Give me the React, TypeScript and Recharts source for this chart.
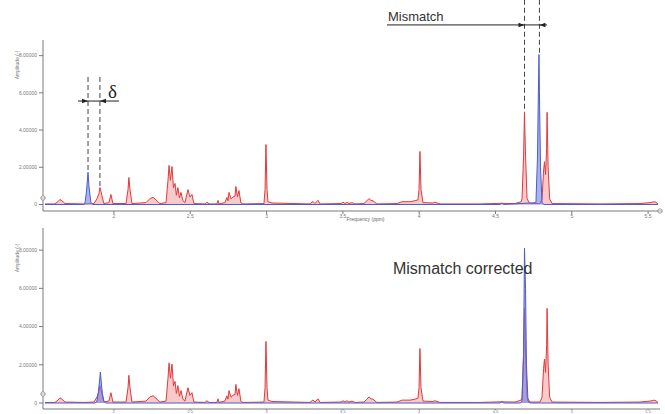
import React from "react";
import { ComposedChart, Area, XAxis, YAxis, ReferenceLine, ReferenceDot, Label } from "recharts";

// mixture spectrum (red): ppm / amplitude
const redPpm = [
  1.548, 1.613, 1.633, 1.646, 1.659, 1.679, 1.803, 1.869, 1.889, 1.902, 1.908, 1.915, 1.921, 1.934,
  1.967, 1.98, 1.993, 2.079, 2.092, 2.098, 2.105, 2.118, 2.21, 2.236, 2.256, 2.275, 2.301, 2.341,
  2.354, 2.361, 2.37, 2.38, 2.39, 2.4, 2.409, 2.419, 2.429, 2.439, 2.452, 2.465, 2.485, 2.498, 2.511,
  2.524, 2.596, 2.609, 2.623, 2.675, 2.682, 2.688, 2.727, 2.74, 2.747, 2.754, 2.767, 2.78, 2.793,
  2.799, 2.809, 2.819, 2.832, 2.845, 2.983, 2.99, 2.996, 3.003, 3.009, 3.035, 3.284, 3.304, 3.317,
  3.337, 3.35, 3.488, 3.501, 3.514, 3.527, 3.54, 3.56, 3.579, 3.638, 3.658, 3.671, 3.684, 3.697,
  3.723, 3.855, 3.887, 3.94, 3.972, 3.992, 3.999, 4.005, 4.012, 4.025, 4.09, 4.103, 4.136, 4.398,
  4.529, 4.628, 4.668, 4.674, 4.684, 4.69, 4.697, 4.707, 4.726, 4.792, 4.805, 4.815, 4.821, 4.828,
  4.835, 4.838, 4.845, 4.855, 4.871, 5.185, 5.447, 5.512, 5.545, 5.565,
];
const redAmp = [
  0.03, 0.03, 0.15, 0.27, 0.2, 0.05, 0.03, 0.05, 0.32, 0.6, 0.91, 0.7, 0.48, 0.05,
  0.1, 0.54, 0.05, 0.05, 0.8, 1.45, 0.8, 0.05, 0.1, 0.32, 0.38, 0.25, 0.05, 0.1,
  1.3, 2.1, 1.3, 2.04, 0.9, 1.13, 0.5, 0.91, 0.35, 0.65, 0.2, 0.1, 0.8, 0.4, 0.54,
  0.05, 0.03, 0.12, 0.03, 0.03, 0.22, 0.03, 0.1, 0.38, 0.2, 0.65, 0.3, 0.4, 0.45,
  0.97, 0.4, 0.75, 0.08, 0.03, 0.05, 0.8, 3.22, 0.8, 0.15, 0.08, 0.03, 0.16, 0.05,
  0.22, 0.03, 0.05, 0.12, 0.05, 0.12, 0.05, 0.1, 0.03, 0.05, 0.2, 0.32, 0.22, 0.2,
  0.03, 0.05, 0.15, 0.15, 0.2, 0.25, 0.8, 2.85, 0.8, 0.1, 0.08, 0.12, 0.03, 0.03,
  0.06, 0.05, 0.15, 0.3, 2.6, 4.95, 2.6, 0.3, 0.05, 0.05, 0.3, 1.8, 2.3, 1.6,
  3.0, 4.95, 2.0, 0.3, 0.05, 0.03, 0.05, 0.1, 0.15, 0.03,
];

// reference spectrum (blue) before alignment
const bluePpm = [
  1.548, 1.803, 1.81, 1.817, 1.823, 1.83, 1.836, 1.843, 1.849, 1.862, 4.529, 4.542, 4.555,
  4.765, 4.775, 4.781, 4.785, 4.788, 4.795, 4.805, 4.818, 5.565,
];
const blueAmp = [
  0, 0, 0.1, 0.5, 1.0, 1.73, 1.0, 0.5, 0.1, 0, 0, 0.08, 0, 0.1, 2.5, 6.0, 8.06, 6.0, 2.0, 0.1, 0, 0,
];

// reference spectrum (blue) after alignment
const blueFixPpm = [
  1.548, 1.876, 1.889, 1.898, 1.905, 1.911, 1.918, 1.924, 1.934, 1.947, 4.529, 4.542, 4.555,
  4.662, 4.674, 4.684, 4.69, 4.697, 4.703, 4.713, 4.726, 5.565,
];
const blueFixAmp = [
  0, 0, 0.1, 0.6, 1.1, 1.62, 1.0, 0.5, 0.1, 0, 0, 0.08, 0, 0, 0.1, 2.5, 8.1, 6.0, 2.0, 0.1, 0, 0,
];

const xTicks = [2, 2.5, 3, 3.5, 4, 4.5, 5, 5.5];
const yTicks = [0, 2, 4, 6, 8];

// annotation anchors (ppm)
const deltaPpm = [1.83, 1.908];
const mismatchPpm = [4.69, 4.788];

const toPoints = (xs: number[], ys: number[]) => xs.map((x, i) => ({ x, y: ys[i] }));
const redData = toPoints(redPpm, redAmp);
const blueData = toPoints(bluePpm, blueAmp);
const blueFixData = toPoints(blueFixPpm, blueFixAmp);

const RED = "#e2393c";
const BLUE = "#4a5cd0";
const AXIS = "#7a7a7a";
const FONT = "'Liberation Sans', Arial, sans-serif";

const arrow = (dir: number) => (p: any) => {
  const { cx, cy } = p;
  return <path d={`M${cx},${cy} L${cx - dir * 6},${cy - 2.3} L${cx - dir * 6},${cy + 2.3} Z`} fill="#222" />;
};

const marker = (p: any) => (
  <g>
    <circle cx={p.cx} cy={p.cy} r={2.2} fill="#fff" stroke={AXIS} strokeWidth={0.7} />
    <line x1={p.cx - 2.2} x2={p.cx + 2.2} y1={p.cy} y2={p.cy} stroke={AXIS} strokeWidth={0.6} />
  </g>
);

const yFmt = (v: number) => (v === 0 ? "0" : v.toFixed(5));
const xFmt = (v: number) => (Number.isInteger(v) ? String(v) : v.toFixed(1));

function Panel(props: {
  height: number;
  top: number;
  xAxisHeight: number;
  xTickSize: number;
  xFont: number;
  yDomain: number[];
  blue: { x: number; y: number }[];
  yLabelY: number;
  xLabel?: boolean;
  markerY: number;
  children?: React.ReactNode;
}) {
  const { height, top, xAxisHeight, xTickSize, xFont, yDomain, blue, yLabelY, xLabel, markerY, children } = props;
  return (
    <ComposedChart width={665} height={height} margin={{ top, right: 5, bottom: 0, left: 0 }}>
      <XAxis
        type="number"
        dataKey="x"
        domain={[1.535, 5.578]}
        ticks={xTicks}
        tickFormatter={xFmt}
        allowDataOverflow
        height={xAxisHeight}
        stroke={AXIS}
        tickSize={xTickSize}
        tickMargin={0}
        tick={{ fontSize: xFont, fill: "#777", fontFamily: FONT }}
      >
        {xLabel && (
          <Label value="Frequency (ppm)" position="insideBottom" offset={3} dx={14} fontSize={5} fill="#666" fontFamily={FONT} />
        )}
      </XAxis>
      <YAxis
        type="number"
        dataKey="y"
        domain={yDomain}
        ticks={yTicks}
        tickFormatter={yFmt}
        allowDataOverflow
        width={43}
        stroke={AXIS}
        tickSize={4}
        tickMargin={2}
        tick={{ fontSize: 5, fill: "#777", fontFamily: FONT }}
        label={{
          content: () => (
            <text
              x={19}
              y={yLabelY}
              transform={`rotate(-90 19 ${yLabelY})`}
              textAnchor="middle"
              fontSize={5}
              fill="#777"
              fontFamily={FONT}
            >
              Amplitude (-)
            </text>
          ),
        }}
      />
      <Area
        data={redData}
        dataKey="y"
        type="linear"
        stroke={RED}
        strokeWidth={1}
        fill="#f28a8a"
        fillOpacity={0.45}
        isAnimationActive={false}
        dot={false}
      />
      <Area
        data={blue}
        dataKey="y"
        type="linear"
        stroke={BLUE}
        strokeWidth={1}
        fill="#6f80e2"
        fillOpacity={0.6}
        isAnimationActive={false}
        dot={false}
      />
      <ReferenceDot x={1.535} y={markerY} r={2} ifOverflow="visible" shape={marker} />
      {children}
    </ComposedChart>
  );
}

export default function App() {
  const dash = { stroke: "#444", strokeWidth: 1, strokeDasharray: "5 3", ifOverflow: "visible" as const };
  return (
    <div style={{ position: "absolute", left: 0, top: 0, width: 665, height: 414, background: "#fff" }}>
      <div style={{ position: "absolute", left: 0, top: 0 }}>
        <Panel
          height={224}
          top={40}
          xAxisHeight={13}
          xTickSize={3}
          xFont={5}
          yDomain={[-0.35, 8.84]}
          blue={blueData}
          yLabelY={65}
          xLabel
          markerY={0.35}
        >
          {/* delta */}
          <ReferenceLine segment={[{ x: deltaPpm[0], y: 6.85 }, { x: deltaPpm[0], y: 1.73 }]} {...dash} />
          <ReferenceLine segment={[{ x: deltaPpm[1], y: 6.85 }, { x: deltaPpm[1], y: 0.91 }]} {...dash} />
          <ReferenceLine segment={[{ x: 1.764, y: 5.56 }, { x: 2.033, y: 5.56 }]} stroke="#222" strokeWidth={1} ifOverflow="visible" />
          <ReferenceDot x={deltaPpm[0]} y={5.56} r={2} ifOverflow="visible" shape={arrow(1)} />
          <ReferenceDot
            x={deltaPpm[1]}
            y={5.56}
            r={2}
            ifOverflow="visible"
            shape={(p: any) => (
              <g>
                {arrow(-1)(p)}
                <text x={p.cx + 8} y={p.cy - 3} fontSize={19} fontFamily="'Liberation Serif', serif" fill="#222">
                  δ
                </text>
              </g>
            )}
          />
          {/* mismatch */}
          <ReferenceLine segment={[{ x: mismatchPpm[0], y: 11 }, { x: mismatchPpm[0], y: 4.95 }]} {...dash} />
          <ReferenceLine segment={[{ x: mismatchPpm[1], y: 11 }, { x: mismatchPpm[1], y: 8.06 }]} {...dash} />
          <ReferenceLine segment={[{ x: 3.789, y: 9.65 }, { x: 4.838, y: 9.65 }]} stroke="#222" strokeWidth={1} ifOverflow="visible" />
          <ReferenceDot x={mismatchPpm[0]} y={9.65} r={2} ifOverflow="visible" shape={arrow(1)} />
          <ReferenceDot x={mismatchPpm[1]} y={9.65} r={2} ifOverflow="visible" shape={arrow(-1)} />
          <ReferenceDot
            x={3.789}
            y={9.65}
            r={2}
            ifOverflow="visible"
            shape={(p: any) => (
              <text x={p.cx + 1} y={p.cy - 4} fontSize={13} fontFamily={FONT} fill="#333">
                Mismatch
              </text>
            )}
          />
          <ReferenceDot x={5.578} y={-0.35} r={2} ifOverflow="visible" shape={marker} />
        </Panel>
      </div>
      <div style={{ position: "absolute", left: 0, top: 220 }}>
        <Panel
          height={194}
          top={8}
          xAxisHeight={5}
          xTickSize={1}
          xFont={4}
          yDomain={[-0.314, 9.16]}
          blue={blueFixData}
          yLabelY={38}
          markerY={0.47}
        >
          <ReferenceDot
            x={3.828}
            y={6.75}
            r={2}
            ifOverflow="visible"
            shape={(p: any) => (
              <text x={p.cx} y={p.cy} fontSize={16} fontFamily={FONT} fill="#333">
                Mismatch corrected
              </text>
            )}
          />
        </Panel>
      </div>
    </div>
  );
}
